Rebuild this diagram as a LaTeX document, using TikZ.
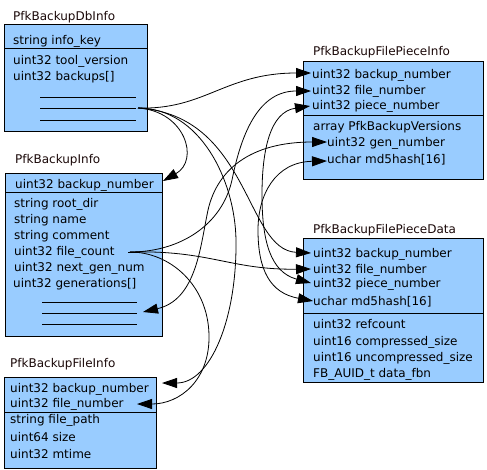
\documentclass[tikz,border=0pt]{standalone}
\usepackage{fontspec}
\setmainfont{DejaVu Sans}
\usetikzlibrary{arrows.meta}
\definecolor{boxblue}{HTML}{99CCFF}
\definecolor{titlecol}{HTML}{1A0808}
\begin{document}
\begin{tikzpicture}[x=1pt,y=-1pt,
  txt/.style={anchor=base west,inner sep=0pt,font=\fontsize{12}{14}\selectfont},
  ttl/.style={txt,text=titlecol},
  box/.style={draw=black,fill=boxblue,line width=0.8pt},
  sep/.style={draw=black,line width=0.8pt},
  conn/.style={draw=black,line width=0.8pt,-{Triangle[length=15pt,width=10pt]}},
  conn2/.style={draw=black,line width=0.8pt,{Triangle[length=15pt,width=10pt]}-{Triangle[length=15pt,width=10pt]}}]
\useasboundingbox (0,0) rectangle (487,469);

% ---------- PfkBackupDbInfo
\node[ttl] (t1) at (13,20) {PfkBackupDbInfo};
\draw[box] (4,24) rectangle (147,131);
\draw[sep] (4,48) -- (147,48);
\node[txt] (d1) at (13,44) {string info\_key};
\node[txt] (d2) at (13,64) {uint32 tool\_version};
\node[txt] (d3) at (13,80) {uint32 backups[]};
\draw[sep] (40,97) -- (136,97);
\draw[sep] (40,108) -- (136,108);
\draw[sep] (40,120) -- (136,120);

% ---------- PfkBackupInfo
\node[ttl] (t2) at (15,163) {PfkBackupInfo};
\draw[box] (5,173) rectangle (162,336);
\draw[sep] (5,192) -- (162,192);
\node[txt] (b1) at (15,188) {uint32 backup\_number};
\node[txt] (b2) at (14,207) {string root\_dir};
\node[txt] (b3) at (14,223) {string name};
\node[txt] (b4) at (14,239) {string comment};
\node[txt] (b5) at (14,255) {uint32 file\_count};
\node[txt] (b6) at (14,271) {uint32 next\_gen\_num};
\node[txt] (b7) at (13,287) {uint32 generations[]};
\draw[sep] (42,302) -- (137,302);
\draw[sep] (42,313) -- (137,313);
\draw[sep] (42,324) -- (137,324);
\draw[sep] (128,252) -- (140,252);

% ---------- PfkBackupFileInfo
\node[ttl] (t3) at (10,367) {PfkBackupFileInfo};
\draw[box] (4,377) rectangle (156,468);
\draw[sep] (4,412) -- (156,412);
\node[txt] (f1) at (10,392) {uint32 backup\_number};
\node[txt] (f2) at (10,407) {uint32 file\_number};
\node[txt] (f3) at (10,423) {string file\_path};
\node[txt] (f4) at (10,441) {uint64 size};
\node[txt] (f5) at (10,458) {uint32 mtime};

% ---------- PfkBackupFilePieceInfo
\node[ttl] (t4) at (313,55) {PfkBackupFilePieceInfo};
\draw[box] (303,61) rectangle (483,179);
\draw[sep] (303,115) -- (483,115);
\node[txt] (p1) at (312,78) {uint32 backup\_number};
\node[txt] (p2) at (312,94) {uint32 file\_number};
\node[txt] (p3) at (312,109) {uint32 piece\_number};
\node[txt] (p4) at (313,130) {array PfkBackupVersions};
\node[txt] (p5) at (327,146) {uint32 gen\_number};
\node[txt] (p6) at (327,163) {uchar md5hash[16]};

% ---------- PfkBackupFilePieceData
\node[ttl] (t5) at (313,233) {PfkBackupFilePieceData};
\draw[box] (303,238) rectangle (483,382);
\draw[sep] (303,313) -- (483,313);
\node[txt] (q1) at (313,257) {uint32 backup\_number};
\node[txt] (q2) at (313,273) {uint32 file\_number};
\node[txt] (q3) at (313,287) {uint32 piece\_number};
\node[txt] (q4) at (313,305) {uchar md5hash[16]};
\node[txt] (q5) at (313,328) {uint32 refcount};
\node[txt] (q6) at (313,345) {uint16 compressed\_size};
\node[txt] (q7) at (313,361) {uint16 uncompressed\_size};
\node[txt] (q8) at (313,377) {FB\_AUID\_t data\_fbn};

% ---------- connector end points
\coordinate (dbsrc) at (138,108);
\coordinate (fcsrc) at (130,252);
\coordinate (biTop) at (163,181);
\coordinate (biGen) at (143,312);
\coordinate (piBN) at (311,73);
\coordinate (piFN) at (311,91);
\coordinate (piPN) at (310,106);
\coordinate (piGN) at (327,142);
\coordinate (piMD) at (327,161);
\coordinate (pdBN) at (311,253);
\coordinate (pdFN) at (311,269);
\coordinate (pdPN) at (311,283);
\coordinate (pdMD) at (313,301);
\coordinate (fiBN) at (162,383);
\coordinate (fiFN) at (137,404);

% ---------- connectors
\draw[conn] (dbsrc) .. controls (185,111) and (200,160) .. (biTop);
\draw[conn] (dbsrc) .. controls (205,110) and (225,73) .. (piBN);
\draw[conn] (dbsrc) .. controls (250,115) and (245,250) .. (pdBN);
\draw[conn] (dbsrc) .. controls (200,108) and (235,180) .. (236,240) .. controls (237,320) and (210,383) .. (fiBN);
\draw[conn] (fcsrc) .. controls (180,252) and (222,225) .. (232,180) .. controls (242,130) and (260,91) .. (piFN);
\draw[conn] (fcsrc) .. controls (210,250) and (230,270) .. (pdFN);
\draw[conn] (fcsrc) .. controls (170,252) and (208,285) .. (209,335) .. controls (210,380) and (180,404) .. (fiFN);
\draw[conn2] (biGen) .. controls (195,300) and (200,250) .. (207,215) .. controls (215,170) and (250,142) .. (piGN);
\draw[conn2] (piPN) .. controls (270,112) and (262,150) .. (262,195) .. controls (262,240) and (270,272) .. (pdPN);
\draw[conn2] (piMD) .. controls (275,162) and (258,195) .. (258,230) .. controls (258,270) and (270,293) .. (pdMD);
\end{tikzpicture}
\end{document}
